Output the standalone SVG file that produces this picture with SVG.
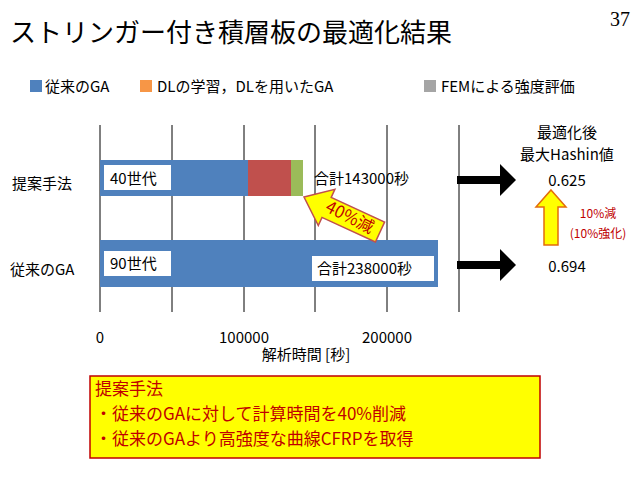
<svg xmlns="http://www.w3.org/2000/svg" width="638" height="479" viewBox="0 0 638 479">
<style>
text{font-family:"Noto Sans CJK JP","Liberation Sans",sans-serif;fill:#000}
.s{font-size:15px}
.grid{stroke:#000;stroke-width:1}
.r{fill:#c00000}
</style>
<defs>
<marker id="h" markerWidth="4" markerHeight="4" refX="1" refY="2" orient="auto" markerUnits="strokeWidth"><path d="M0,0 L2,2 L0,4 z" fill="#000"/></marker>
</defs>
<rect width="638" height="479" fill="#fff"/>
<text x="10" y="42" font-size="26">ストリンガー付き積層板の最適化結果</text>
<text x="620" y="26" font-size="20" text-anchor="middle" style="font-family:'Liberation Serif',serif">37</text>
<g id="legend">
<rect x="30" y="80" width="12" height="12" fill="#4f81bd"/><text x="45" y="92" class="s">従来のGA</text>
<rect x="140" y="80" width="12" height="12" fill="#f79646"/><text x="157" y="92" class="s">DLの学習，DLを用いたGA</text>
<rect x="424" y="80" width="12" height="12" fill="#a5a5a5"/><text x="441" y="92" class="s">FEMによる強度評価</text>
</g>
<g id="grid">
<line class="grid" x1="100" y1="125" x2="100" y2="312"/><line class="grid" x1="172" y1="125" x2="172" y2="312"/>
<line class="grid" x1="244" y1="125" x2="244" y2="312"/><line class="grid" x1="315" y1="125" x2="315" y2="312"/>
<line class="grid" x1="387" y1="125" x2="387" y2="312"/><line class="grid" x1="459" y1="125" x2="459" y2="312"/>
</g>
<g id="bar1">
<rect x="100" y="160" width="148" height="36" fill="#4f81bd"/>
<rect x="248" y="160" width="43" height="36" fill="#c0504d"/>
<rect x="291" y="160" width="12" height="36" fill="#9bbb59"/>
<rect x="104" y="165" width="67" height="25" fill="#fff"/>
<text x="110" y="184" class="s">40世代</text>
<text x="314" y="184" class="s">合計143000秒</text>
</g>
<g id="bar2">
<rect x="100" y="240" width="338" height="47" fill="#4f81bd"/>
<rect x="104" y="251" width="67" height="25" fill="#fff"/>
<text x="110" y="269" class="s">90世代</text>
<rect x="312" y="256" width="122" height="25" fill="#fff"/>
<text x="317" y="274" class="s">合計238000秒</text>
</g>
<text x="12" y="189" class="s">提案手法</text>
<text x="10" y="275" class="s">従来のGA</text>
<g id="axis">
<text x="100" y="343" text-anchor="middle" class="s">0</text>
<text x="244" y="343" text-anchor="middle" class="s">100000</text>
<text x="387" y="343" text-anchor="middle" class="s">200000</text>
<text x="306" y="360" text-anchor="middle" class="s">解析時間 [秒]</text>
</g>
<g id="connectors">
<line x1="457" y1="180" x2="508" y2="180" stroke="#000" stroke-width="8" marker-end="url(#h)"/>
<line x1="457" y1="265" x2="508" y2="265" stroke="#000" stroke-width="8" marker-end="url(#h)"/>
<polygon points="551,190 566,207 558,207 558,245 544,245 544,207 536,207" fill="#ffff00" stroke="#e46c0a" stroke-width="1.5"/>
<polygon points="304,197 334.9,189.3 331.2,197.4 384.6,222 375.4,242 322,217.4 318.3,225.5" fill="#ffff00" stroke="#c0504d" stroke-width="1.5"/>
</g>
<text x="0" y="6" font-size="17" class="r" text-anchor="middle" transform="translate(350,217) rotate(27)">40%減</text>
<g id="result">
<text x="567" y="138" text-anchor="middle" class="s">最適化後</text>
<text x="567" y="160" text-anchor="middle" class="s">最大Hashin値</text>
<text x="567" y="186" text-anchor="middle" class="s">0.625</text>
<text x="567" y="272" text-anchor="middle" class="s">0.694</text>
<text x="598" y="218" text-anchor="middle" font-size="12" class="r">10%減</text>
<text x="598" y="238" text-anchor="middle" font-size="12" class="r">(10%強化)</text>
</g>
<g id="summary">
<rect x="90" y="376" width="450" height="82" fill="#ffff00" stroke="#c00000" stroke-width="1.5"/>
<text x="95" y="395" font-size="17" class="r">提案手法</text>
<text x="95" y="420" font-size="17" class="r">・従来のGAに対して計算時間を40%削減</text>
<text x="95" y="445" font-size="17" class="r">・従来のGAより高強度な曲線CFRPを取得</text>
</g>
</svg>
